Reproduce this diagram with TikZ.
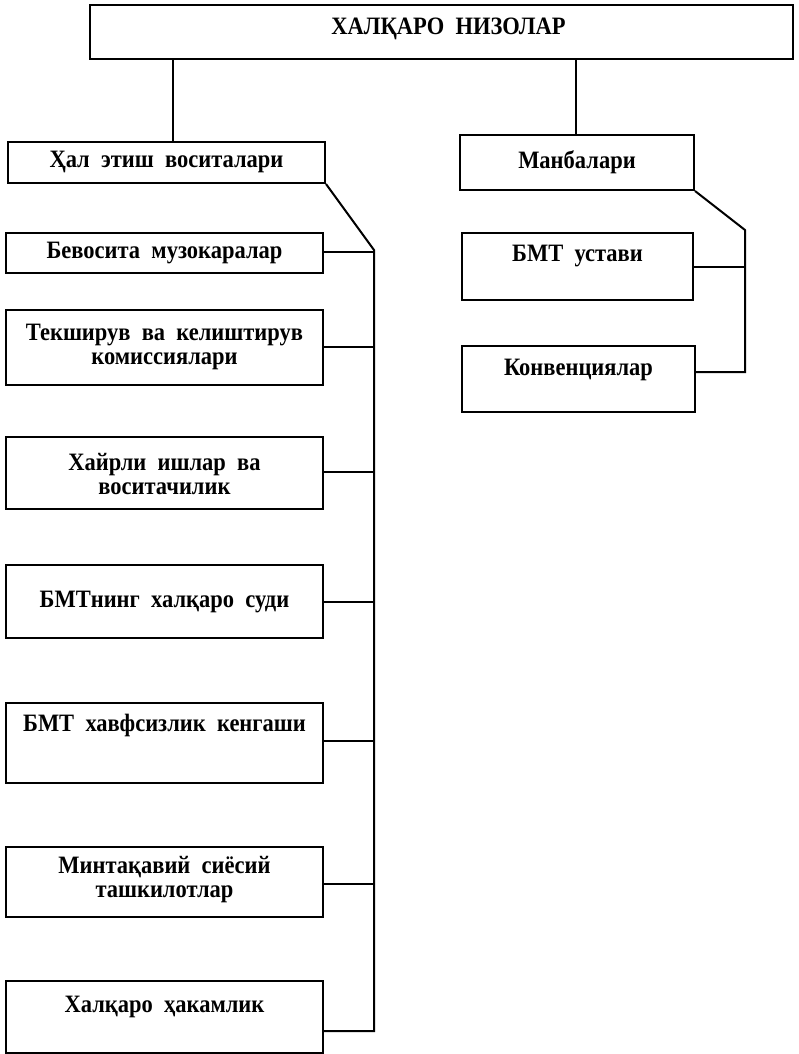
\documentclass[tikz,border=0pt]{standalone}
\usepackage{fontspec}
\setmainfont{Liberation Serif}[FakeStretch=0.9]
\usetikzlibrary{calc}
\newcommand\wgap{\hspace{0.45em}}
\tikzset{
  box/.style={draw, line width=2pt, rectangle, inner sep=0pt, anchor=center},
  txt/.style={font=\bfseries\fontsize{25}{24}\selectfont, align=center, inner sep=0pt},
  wire/.style={line width=2pt, line join=miter},
}
\begin{document}
\begin{tikzpicture}[x=1pt,y=-1pt]
\useasboundingbox (0,0) rectangle (798,1054);
% main boxes
\node[box, minimum width=703pt, minimum height=54pt] (top) at (441.5,32) {};
\node[txt] (topt) at (448.5,29) {ХАЛҚАРО\wgap НИЗОЛАР};
\node[box, minimum width=317pt, minimum height=41pt] (hal) at (166.5,162.5) {};
\node[txt] (halt) at (166.5,162) {Ҳал\wgap этиш\wgap воситалари};
\node[box, minimum width=234pt, minimum height=55pt] (manb) at (577,162.5) {};
\node[txt] (manbt) at (577,162) {Манбалари};
% right column
\node[box, minimum width=231pt, minimum height=67pt] (ust) at (577.5,266.5) {};
\node[txt] (ustt) at (577.5,256) {БМТ\wgap устави};
\node[box, minimum width=233pt, minimum height=66pt] (konv) at (578.5,379) {};
\node[txt] (konvt) at (578.5,370) {Конвенциялар};
% left column
\node[box, minimum width=317pt, minimum height=40pt] (bev) at (164.5,253) {};
\node[txt] (bevt) at (164.5,253) {Бевосита\wgap музокаралар};
\node[box, minimum width=317pt, minimum height=75pt] (tek) at (164.5,347.5) {};
\node[txt] (tekt) at (164.5,347) {Текширув\wgap ва\wgap келиштирув\\комиссиялари};
\node[box, minimum width=317pt, minimum height=72pt] (hayr) at (164.5,473) {};
\node[txt] (hayrt) at (164.5,474) {Хайрли\wgap ишлар\wgap ва\\воситачилик};
\node[box, minimum width=317pt, minimum height=73pt] (bmtn) at (164.5,601.5) {};
\node[txt] (bmtnt) at (164.5,602) {БМТнинг\wgap халқаро\wgap суди};
\node[box, minimum width=317pt, minimum height=80pt] (havf) at (164.5,743) {};
\node[txt] (havft) at (164.5,725) {БМТ\wgap хавфсизлик\wgap кенгаши};
\node[box, minimum width=317pt, minimum height=70pt] (mint) at (164.5,882) {};
\node[txt] (mintt) at (164.5,880) {Минтақавий\wgap сиёсий\\ташкилотлар};
\node[box, minimum width=317pt, minimum height=72pt] (halq) at (164.5,1017) {};
\node[txt] (halqt) at (164.5,1007) {Халқаро\wgap ҳакамлик};
% bus coordinates
\coordinate (lbtop) at (374,250);
\coordinate (lbbot) at (374,1031);
\coordinate (rbtop) at (745,230);
\coordinate (rbbot) at (745,372);
% connectors from top
\draw[wire] (top.south -| 173,0) -- (hal.north -| 173,0);
\draw[wire] (top.south -| 576,0) -- (manb.north -| 576,0);
% left bus
\draw[wire] (hal.south east) -- (lbtop) -- (lbbot) -- (lbbot -| halq.east);
\draw[wire] (bev.east |- 0,252) -- (lbtop |- 0,252);
\draw[wire] (tek.east |- 0,347) -- (lbtop |- 0,347);
\draw[wire] (hayr.east |- 0,472) -- (lbtop |- 0,472);
\draw[wire] (bmtn.east |- 0,602) -- (lbtop |- 0,602);
\draw[wire] (havf.east |- 0,741) -- (lbtop |- 0,741);
\draw[wire] (mint.east |- 0,884) -- (lbtop |- 0,884);
% right bus
\draw[wire] (manb.south east) -- (rbtop) -- (rbbot) -- (rbbot -| konv.east);
\draw[wire] (ust.east |- 0,267) -- (rbtop |- 0,267);
\end{tikzpicture}
\end{document}
